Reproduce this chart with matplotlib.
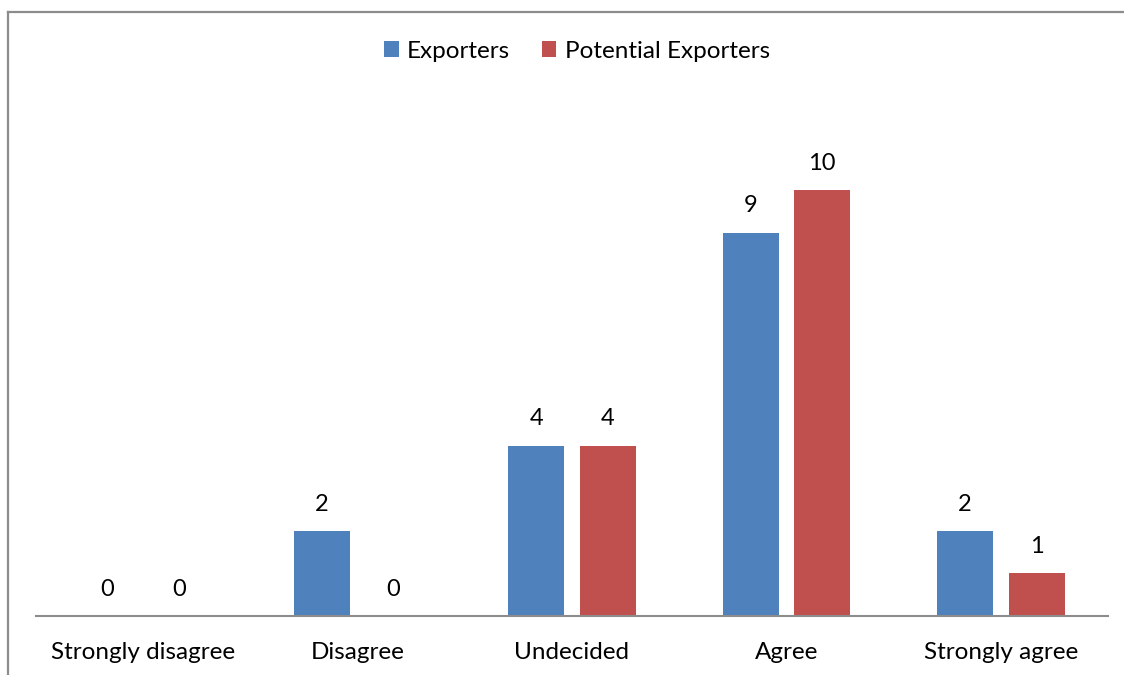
import matplotlib
matplotlib.use("Agg")
import matplotlib.pyplot as plt
from matplotlib.lines import Line2D
import numpy as np

categories = ["Strongly disagree", "Disagree", "Undecided", "Agree", "Strongly agree"]
exporters = [0, 2, 4, 9, 2]
potential_exporters = [0, 0, 4, 10, 1]

plt.rcParams['font.family'] = ['Lato', 'DejaVu Sans']

W, H = 1124, 675
fig = plt.figure(figsize=(W / 100, H / 100), dpi=100)
ax = fig.add_axes([36 / W, (H - 616) / H, (1108 - 36) / W, 511.2 / H])

x = np.arange(len(categories))
width = 0.261
offset = 0.1667
blue = "#4F81BD"
red = "#C0504D"

b1 = ax.bar(x - offset, exporters, width, color=blue, label="Exporters")
b2 = ax.bar(x + offset, potential_exporters, width, color=red, label="Potential Exporters")

for bars, vals in ((b1, exporters), (b2, potential_exporters)):
    for rect, v in zip(bars, vals):
        ax.text(rect.get_x() + rect.get_width() / 2, v + 0.38, str(v),
                ha="center", va="bottom", fontsize=17, color="black")

ax.set_xlim(-0.5, len(categories) - 0.5)
ax.set_ylim(0, 12)
ax.set_xticks(x)
ax.set_xticklabels(categories, fontsize=17.5)
ax.tick_params(axis="x", length=0, pad=19)
ax.set_yticks([])
for s in ("top", "right", "left"):
    ax.spines[s].set_visible(False)
ax.spines["bottom"].set_color("#8c8c8c")
ax.spines["bottom"].set_linewidth(1.5)

leg = fig.legend(loc="center", bbox_to_anchor=(577 / W, 1 - 51 / H), ncol=2,
                 frameon=False, fontsize=17.5, handlelength=0.6, handleheight=0.6,
                 handletextpad=0.35, columnspacing=1.3)

# outer frame edges
fig.add_artist(Line2D([7.5 / W, 7.5 / W], [0, 1 - 11.5 / H], color="#8c8c8c", lw=1.6,
                      transform=fig.transFigure))
fig.add_artist(Line2D([7.5 / W, 1], [1 - 11.5 / H, 1 - 11.5 / H], color="#8c8c8c", lw=1.6,
                      transform=fig.transFigure))

fig.savefig("out.png", dpi=100, facecolor="white")
